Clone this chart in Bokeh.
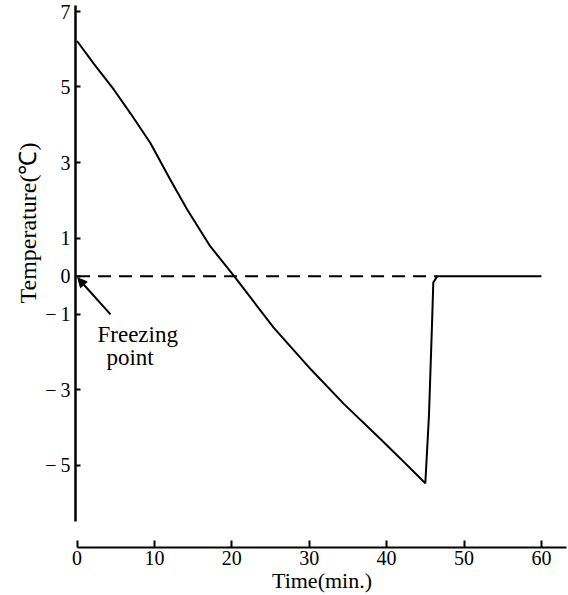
import math
from bokeh.plotting import figure
from bokeh.models import FixedTicker, Label, Arrow, NormalHead, Range1d, Title
from bokeh.embed import file_html
from bokeh.resources import INLINE

# Data
time_min = [0, 2.2, 4.74, 6.9, 9.49, 12.07, 14.23, 17.2, 20.3, 25.4, 30.2, 34.5,
            39.2, 41.8, 45.0, 45.47, 45.9, 46.03, 46.55, 60]
temp_c = [6.21, 5.60, 4.93, 4.30, 3.51, 2.54, 1.76, 0.79, 0.0, -1.36, -2.46, -3.38,
          -4.30, -4.82, -5.47, -3.68, -1.05, -0.17, 0.0, 0.0]

freeze_x = [0, 46.55]
freeze_y = [0, 0]

x_ticks = [0, 10, 20, 30, 40, 50, 60]
y_ticks = [7, 5, 3, 1, 0, -1, -3, -5]
y_tick_labels = {7: "7", 5: "5", 3: "3", 1: "1", 0: "0",
                 -1: "\u2212\u20091", -3: "\u2212\u20093", -5: "\u2212\u20095"}

FONT = "Liberation Serif"

p = figure(width=568, height=595, output_backend="svg", toolbar_location=None,
           x_range=Range1d(-0.2, 63.5), y_range=Range1d(-7.166, 7.2),
           min_border_left=75, min_border_right=0, min_border_top=3,
           min_border_bottom=46)
p.outline_line_color = None
p.xgrid.visible = False
p.ygrid.visible = False
p.background_fill_color = "white"
p.border_fill_color = "white"

# dashed freezing-point line
p.line(freeze_x, freeze_y, line_color="black", line_width=2, line_dash="13 8")
# temperature curve
p.line(time_min, temp_c, line_color="black", line_width=2)

# axes
xa = p.xaxis[0]
xa.ticker = FixedTicker(ticks=x_ticks)
xa.bounds = (0, 63.2)
xa.axis_line_width = 2
xa.major_tick_in = 7
xa.major_tick_out = 0
xa.major_tick_line_width = 2
xa.minor_tick_line_color = None
xa.major_label_text_font = FONT
xa.major_label_text_font_size = "20px"
xa.major_label_text_color = "black"
xa.major_label_standoff = 3
xa.axis_label = "Time(min.)"
xa.axis_label_text_font = FONT
xa.axis_label_text_font_size = "22px"
xa.axis_label_text_font_style = "normal"
xa.axis_label_text_color = "black"
xa.axis_label_standoff = 0

ya = p.yaxis[0]
ya.ticker = FixedTicker(ticks=y_ticks)
ya.major_label_overrides = y_tick_labels
ya.bounds = (-6.48, 7.15)
ya.axis_line_width = 2.5
ya.major_tick_in = 5
ya.major_tick_out = 0
ya.major_tick_line_width = 2
ya.minor_tick_line_color = None
ya.major_label_text_font = FONT
ya.major_label_text_font_size = "20px"
ya.major_label_text_color = "black"
ya.major_label_standoff = 5

# y-axis title as a left-side title, placed higher than centre as in the reference
p.add_layout(Title(text="Temperature(\u2103)", align="left", offset=244,
                   text_font=FONT, text_font_size="24px",
                   text_font_style="normal", text_color="black", standoff=4),
             "left")

# freezing point annotation
p.add_layout(Arrow(x_start=4.32, y_start=-1.01, x_end=0.1, y_end=-0.05,
                   line_width=2, line_color="black",
                   end=NormalHead(size=9, fill_color="black", line_color="black")))
p.add_layout(Label(x=2.64, y=-1.53, text="Freezing", text_align="left",
                   text_baseline="alphabetic", text_font=FONT,
                   text_font_size="23px", text_color="black"))
p.add_layout(Label(x=3.8, y=-2.14, text="point", text_align="left",
                   text_baseline="alphabetic", text_font=FONT,
                   text_font_size="23px", text_color="black"))

open("out.html", "w").write(file_html(p, INLINE))
